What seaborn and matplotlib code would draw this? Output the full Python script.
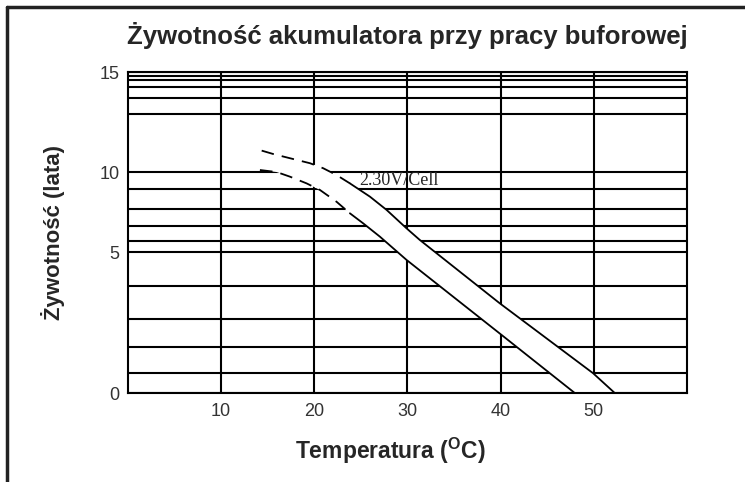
"""
Battery float-service life vs temperature (2.30 V/cell), redrawn from a datasheet scan.
The y axis of the scan is non-uniform, so it is rebuilt as a piecewise-linear scale.
"""

import matplotlib.pyplot as plt
import numpy as np
import pandas as pd
import seaborn as sns
from matplotlib.lines import Line2D

# y-axis of the scan: tick values and their relative heights on the page
scale_values = [0, 5, 10, 15]
scale_heights = [0, 141, 221, 321]

y_ticks = [0, 5, 10, 15]
y_grid = [0.71, 1.63, 2.62, 3.79, 5.0, 5.69, 6.63, 7.69, 8.94, 10.0,
          12.9, 13.7, 14.25, 14.6, 14.8]
x_ticks = [10, 20, 30, 40, 50]
x_grid = [10, 20, 30, 40, 50]

# upper / lower edge of the life band (temperature in C, life in years)
upper_x = [14.35, 15.59, 17.38, 19.53, 20.95, 22.39, 23.82, 25.97, 27.76, 29.9, 31.33, 39.91, 49.93, 52.25]
upper_y = [11.07, 10.9, 10.69, 10.44, 10.19, 9.81, 9.29, 8.46, 7.63, 6.48, 5.75, 3.18, 0.70, 0.0]
lower_x = [14.16, 15.95, 17.38, 19.17, 20.6, 22.39, 23.82, 25.25, 27.04, 29.9, 40.1, 47.96]
lower_y = [10.1, 10.0, 9.71, 9.29, 8.88, 8.14, 7.42, 6.79, 5.96, 4.72, 2.06, 0.0]
dash_end = 23.82  # curves are dashed (extrapolated) below this temperature

label_text = "2.30V/Cell"
label_pos = (24.8, 9.44)


def fwd(v):
    return np.interp(v, scale_values, scale_heights)


def inv(h):
    return np.interp(h, scale_heights, scale_values)


def main():
    sns.set_style("white")
    plt.rcParams["font.family"] = ["Liberation Sans", "DejaVu Sans"]

    fig = plt.figure(figsize=(7.45, 4.82), dpi=100)
    ax = fig.add_axes([0.1718, 0.1846, 0.7503, 0.666])
    ax.set_yscale("function", functions=(fwd, inv))
    ax.set_xlim(0, 60)
    ax.set_ylim(0, 15)

    ax.set_yticks(y_ticks)
    ax.set_yticks(y_grid, minor=True)
    ax.set_xticks(x_ticks)
    ax.set_xticks(x_grid, minor=True)
    ax.grid(which="both", color="black", linewidth=1.5)
    ax.set_axisbelow(True)
    ax.tick_params(which="both", length=0)
    ax.tick_params(axis="y", labelsize=13, labelcolor="#333333", pad=6)
    ax.tick_params(axis="x", labelsize=13, labelcolor="#333333", pad=7)
    ax.yaxis.set_minor_formatter(plt.NullFormatter())
    for spine in ax.spines.values():
        spine.set_color("black")
        spine.set_linewidth(1.5)

    # white band between the two curves hides the grid underneath
    band_x = upper_x + lower_x[::-1]
    band_y = upper_y + lower_y[::-1]
    ax.fill(band_x, band_y, color="white", zorder=2, linewidth=0)

    for xs, ys in [(upper_x, upper_y), (lower_x, lower_y)]:
        df = pd.DataFrame({"t": xs, "life": ys})
        dashed = df[df["t"] <= dash_end]
        solid = df[df["t"] >= dashed["t"].max()]
        sns.lineplot(data=dashed, x="t", y="life", ax=ax, color="black", linewidth=1.3,
                     linestyle=(0, (7, 4.5)), estimator=None, sort=False, zorder=3)
        sns.lineplot(data=solid, x="t", y="life", ax=ax, color="black", linewidth=1.3,
                     estimator=None, sort=False, zorder=3)

    ax.text(label_pos[0], label_pos[1], label_text, family="Liberation Serif",
            fontsize=13, va="center", ha="left", zorder=4)

    ax.set_xlabel("Temperatura ($\\mathregular{^{O}}$C)", fontsize=16.5, fontweight="bold")
    ax.xaxis.set_label_coords(0.469, -0.133)
    ax.set_ylabel("Żywotność (lata)", fontsize=16, fontweight="bold", labelpad=25)
    ax.set_title("Żywotność akumulatora przy pracy buforowej", fontsize=18.5,
                 fontweight="bold", pad=20)

    # frame of the scanned page (top and left edges only)
    fig.add_artist(Line2D([7.5 / 745, 7.5 / 745], [0, 1 - 6.5 / 482],
                          transform=fig.transFigure, color="#222222", linewidth=2.5))
    fig.add_artist(Line2D([7.5 / 745, 1], [1 - 6.5 / 482, 1 - 6.5 / 482],
                          transform=fig.transFigure, color="#222222", linewidth=2.5))

    fig.savefig("out.png", dpi=100)


if __name__ == "__main__":
    main()
